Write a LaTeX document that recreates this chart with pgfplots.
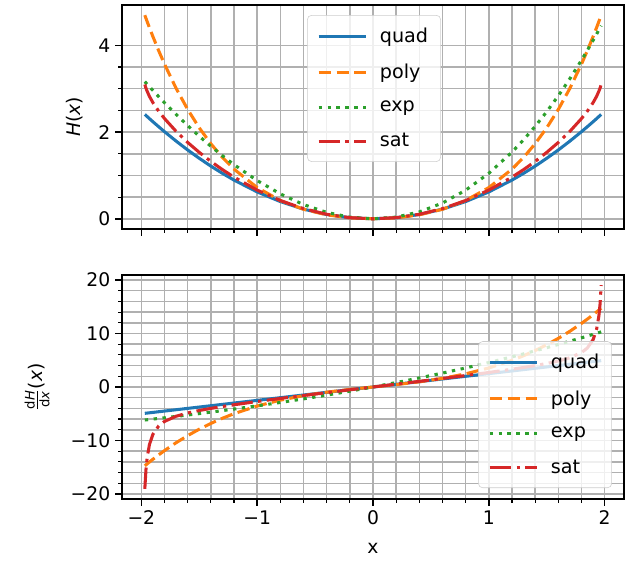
\documentclass[border=0pt]{standalone}
\usepackage{fontspec}
\setmainfont{DejaVu Sans}
\usepackage{amsmath}
\usepackage{pgfplots}
\pgfplotsset{compat=1.18}
\usepackage{pgfplotstable}

\definecolor{c0}{HTML}{1F77B4}
\definecolor{c1}{HTML}{FF7F0E}
\definecolor{c2}{HTML}{2CA02C}
\definecolor{c3}{HTML}{D62728}
\definecolor{gridc}{HTML}{B0B0B0}
\definecolor{legc}{HTML}{CCCCCC}

% H(x)
\pgfplotstableread{
x     quad   poly   exp    sat
-1.97 2.406  4.695  3.163  3.097
-1.96 2.382  4.622  3.134  3.012
-1.95 2.358  4.549  3.104  2.942
-1.93 2.309  4.407  3.046  2.822
-1.90 2.238  4.201  2.959  2.678
-1.85 2.122  3.874  2.816  2.480
-1.80 2.009  3.567  2.677  2.311
-1.70 1.792  3.009  2.407  2.017
-1.60 1.587  2.522  2.149  1.761
-1.50 1.395  2.098  1.904  1.532
-1.40 1.215  1.731  1.673  1.323
-1.30 1.048  1.415  1.454  1.134
-1.20 0.893  1.145  1.249  0.961
-1.00 0.620  0.720  0.882  0.662
-0.80 0.397  0.422  0.574  0.421
-0.60 0.223  0.220  0.328  0.235
-0.40 0.099  0.092  0.148  0.104
-0.20 0.025  0.022  0.038  0.026
0.00  0.000  0.000  0.000  0.000
0.20  0.025  0.022  0.039  0.026
0.40  0.099  0.092  0.159  0.104
0.60  0.223  0.220  0.364  0.235
0.80  0.397  0.422  0.659  0.421
1.00  0.620  0.720  1.049  0.662
1.20  0.893  1.145  1.538  0.961
1.30  1.048  1.415  1.822  1.134
1.40  1.215  1.731  2.132  1.323
1.50  1.395  2.098  2.470  1.532
1.60  1.587  2.522  2.837  1.761
1.70  1.792  3.009  3.232  2.017
1.80  2.009  3.567  3.658  2.311
1.85  2.122  3.874  3.882  2.480
1.90  2.238  4.201  4.114  2.678
1.93  2.309  4.407  4.257  2.822
1.95  2.358  4.549  4.354  2.942
1.96  2.382  4.622  4.403  3.012
1.97  2.406  4.695  4.452  3.097
}\Htab

% dH/dx
\pgfplotstableread{
x     quad    poly     exp     sat
-1.97 -4.925 -14.732  -6.173  -19.043
-1.96 -4.900 -14.552  -6.149  -15.435
-1.95 -4.875 -14.374  -6.125  -13.260
-1.93 -4.825 -14.023  -6.076  -10.753
-1.90 -4.750 -13.508  -6.003  -8.835
-1.85 -4.625 -12.681  -5.880  -7.277
-1.80 -4.500 -11.892  -5.756  -6.435
-1.70 -4.250 -10.422  -5.502  -5.468
-1.60 -4.000 -9.091   -5.241  -4.860
-1.50 -3.750 -7.890   -4.973  -4.395
-1.40 -3.500 -6.812   -4.699  -4.002
-1.30 -3.250 -5.848   -4.417  -3.649
-1.20 -3.000 -4.990   -4.128  -3.323
-1.00 -2.500 -3.560   -3.526  -2.715
-0.80 -2.000 -2.456   -2.892  -2.143
-0.60 -1.500 -1.614   -2.224  -1.592
-0.40 -1.000 -0.967   -1.521  -1.054
-0.20 -0.500 -0.451   -0.780  -0.524
0.00  0.000  0.000    0.000   0.000
0.20  0.500  0.451    0.822   0.524
0.40  1.000  0.967    1.688   1.054
0.60  1.500  1.614    2.600   1.592
0.80  2.000  2.456    3.561   2.143
1.00  2.500  3.560    4.573   2.715
1.20  3.000  4.990    5.639   3.323
1.30  3.250  5.848    6.193   3.649
1.40  3.500  6.812    6.762   4.002
1.50  3.750  7.890    7.346   4.395
1.60  4.000  9.091    7.945   4.860
1.70  4.250  10.422   8.560   5.468
1.80  4.500  11.892   9.191   6.435
1.85  4.625  12.681   9.513   7.277
1.90  4.750  13.508   9.839   8.835
1.93  4.825  14.023   10.036  10.753
1.95  4.875  14.374   10.169  13.260
1.96  4.900  14.552   10.235  15.435
1.97  4.925  14.732   10.302  19.043
}\dHtab

\pgfplotsset{
  panel/.style={
    scale only axis, width=361.44pt, height=161.28pt,
    anchor=south west,
    xmin=-2.167, xmax=2.167,
    xtick={-2,-1,0,1,2},
    minor x tick num=4,
    grid=both,
    major grid style={gridc, line width=1.1pt},
    minor grid style={gridc, line width=1.1pt},
    axis line style={line width=1.1pt},
    tick align=outside, tick pos=left,
    major tick length=4.9pt, minor tick length=2.8pt,
    every major tick/.append style={black, line width=1.1pt},
    every minor tick/.append style={black, line width=0.85pt},
    tick label style={font=\fontsize{13.5}{16}\selectfont},
    legend cell align=left,
    legend style={font=\fontsize{13.8}{16}\selectfont, draw=legc,
      fill=white, fill opacity=0.8, text opacity=1, rounded corners=3pt,
      row sep=10.3pt, inner xsep=7pt, inner ysep=7pt,
      /tikz/every odd column/.append style={column sep=7pt}},
    legend image code/.code={\draw[##1] (0pt,0pt) -- (34pt,0pt);},
    every axis plot/.append style={line width=2.2pt},
  },
  squad/.style={c0, solid},
  spoly/.style={c1, dash pattern=on 9pt off 3.9pt},
  sexp/.style={c2, dash pattern=on 2.4pt off 4pt},
  ssat/.style={c3, dash pattern=on 15.4pt off 3.9pt on 2.4pt off 3.9pt},
}

\begin{document}
\begin{tikzpicture}
\path[use as bounding box] (0,0) rectangle (460.8pt,408.96pt);

\begin{axis}[panel, at={(87.84pt,244.08pt)},
  ymin=-0.235, ymax=4.93,
  ytick={0,2,4}, yticklabels={0,2,4},
  minor y tick num=3,
  xticklabels={},
  ylabel={\itshape H\upshape(\itshape x\upshape)},
  every axis y label/.style={at={(axis description cs:-0.0936,0.5)}, rotate=90, anchor=center,
    font=\fontsize{13.5}{16}\selectfont},
  legend style={at={(0.502,0.955)}, anchor=north},
]
\addplot[squad] table[x=x, y=quad] {\Htab};
\addplot[spoly] table[x=x, y=poly] {\Htab};
\addplot[sexp] table[x=x, y=exp] {\Htab};
\addplot[ssat] table[x=x, y=sat] {\Htab};
\legend{quad, poly, exp, sat}
\end{axis}

\begin{axis}[panel, at={(87.84pt,49.68pt)},
  ymin=-20.94, ymax=20.94,
  ytick={-20,-10,0,10,20}, yticklabels={−20,−10,0,10,20},
  minor y tick num=4,
  xticklabels={−2,−1,0,1,2},
  xlabel={x},
  every axis x label/.style={at={(axis description cs:0.5,-0.219)}, anchor=center,
    font=\fontsize{13.5}{16}\selectfont},
  ylabel={$\frac{\text{d}\textit{H}}{\text{d}\textit{x}}$(\textit{x})},
  every axis y label/.style={at={(axis description cs:-0.169,0.5)}, rotate=90, anchor=center,
    font=\fontsize{13.5}{16}\selectfont},
  legend style={at={(0.976,0.049)}, anchor=south east},
]
\addplot[squad] table[x=x, y=quad] {\dHtab};
\addplot[spoly] table[x=x, y=poly] {\dHtab};
\addplot[sexp] table[x=x, y=exp] {\dHtab};
\addplot[ssat] table[x=x, y=sat] {\dHtab};
\legend{quad, poly, exp, sat}
\end{axis}
\end{tikzpicture}
\end{document}
